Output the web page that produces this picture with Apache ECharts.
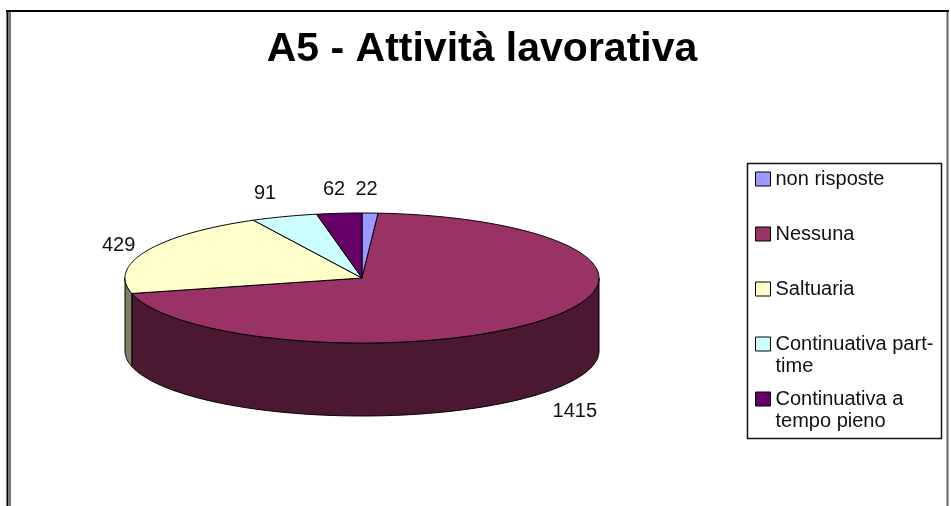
<!DOCTYPE html>
<html>
<head>
<meta charset="utf-8">
<title>A5 - Attività lavorativa</title>
<script src="https://cdn.jsdelivr.net/npm/echarts@6/dist/echarts.min.js"></script>
<style>
  html, body { margin: 0; padding: 0; background: #fff; }
  #chart { width: 951px; height: 506px; }
</style>
</head>
<body>
<div id="chart"></div>
<script>
// dati
const categories = ['non risposte', 'Nessuna', 'Saltuaria', 'Continuativa part-time', 'Continuativa a tempo pieno']
const values = [22, 1415, 429, 91, 62]
const legendLabels = ['non risposte', 'Nessuna', 'Saltuaria', 'Continuativa part-\ntime', 'Continuativa a\ntempo pieno']

// colori stile Excel (faccia superiore / lato)
const topColors = ['#9999ff', '#993366', '#ffffcc', '#ccffff', '#660066']
const sideColors = ['#4c4c7f', '#4a1830', '#7f7f66', '#667f7f', '#330033']

// geometria della torta 3D
const CX = 362, CY = 278, RX = 237, RY = 65, DEPTH = 73
const total = values.reduce((a, b) => a + b, 0)

const pt = (deg, dy) => {
  const r = deg * Math.PI / 180
  return [CX + RX * Math.sin(r), CY - RY * Math.cos(r) + dy]
}

const arc = (a0, a1, dy) => {
  const pts = []
  const n = Math.max(2, Math.ceil(Math.abs(a1 - a0)))
  for (let k = 0; k <= n; k++) pts.push(pt(a0 + (a1 - a0) * k / n, dy))
  return pts
}

function renderSlice (params, api) {
  const i = params.seriesIndex
  let start = 0
  for (let k = 0; k < i; k++) start += values[k]
  const a0 = start / total * 360
  const a1 = (start + api.value(0)) / total * 360
  const children = []

  // lato visibile (metà anteriore)
  const s = Math.max(a0, 90), e = Math.min(a1, 270)
  if (e > s) {
    children.push({
      type: 'polygon',
      shape: { points: arc(s, e, 0).concat(arc(e, s, DEPTH)) },
      style: { fill: sideColors[i], stroke: '#000', lineWidth: 1 }
    })
  }

  // faccia superiore
  children.push({
    type: 'polygon',
    shape: { points: [[CX, CY]].concat(arc(a0, a1, 0)) },
    style: { fill: topColors[i], stroke: '#000', lineWidth: 1 }
  })

  // etichetta del valore
  const mid = (a0 + a1) / 2 * Math.PI / 180
  const sn = Math.sin(mid), cs = Math.cos(mid)
  const lx = CX + (RX + 12) * sn - (Math.abs(sn) < 0.5 ? 4 : 0)
  const ly = CY - (RY + 14) * cs + (cs < 0 ? DEPTH : 0)
  children.push({
    type: 'text',
    style: {
      x: lx,
      y: ly,
      text: String(api.value(0)),
      fill: '#111',
      font: '20px "Liberation Sans"',
      align: sn < -0.3 ? 'right' : (sn > 0.3 ? 'left' : 'center'),
      verticalAlign: cs > 0.5 ? 'bottom' : (cs < -0.5 ? 'top' : 'middle')
    }
  })

  return { type: 'group', children }
}

const chart = echarts.init(document.getElementById('chart'))

// voci su due righe: una riga vuota sopra, cosi' la prima riga resta allineata al quadratino
const legendText = name => {
  const label = legendLabels[categories.indexOf(name)]
  return label.indexOf('\n') >= 0 ? '\n' + label : label
}

const option = {
  backgroundColor: '#fff',
  animation: false,
  title: {
    text: 'A5 - Attività lavorativa',
    left: 477,
    top: 24,
    textAlign: 'center',
    textStyle: {
      fontFamily: 'Liberation Sans',
      fontWeight: 'bold',
      fontSize: 41,
      color: '#000'
    }
  },
  legend: {
    orient: 'vertical',
    left: 755,
    top: 146,
    padding: 0,
    itemGap: -11,
    itemWidth: 15,
    itemHeight: 14,
    icon: 'rect',
    selectedMode: false,
    itemStyle: { borderColor: '#000', borderWidth: 1 },
    textStyle: {
      fontFamily: 'Liberation Sans',
      fontSize: 20,
      lineHeight: 66,
      color: '#111'
    },
    formatter: legendText,
    data: categories.map((name, i) => legendLabels[i].indexOf('\n') >= 0
      ? { name, textStyle: { lineHeight: 22 } }
      : { name })
  },
  graphic: [
    // cornice esterna
    { type: 'line', shape: { x1: 6, y1: 11, x2: 949, y2: 11 }, style: { stroke: '#000', lineWidth: 2 } },
    { type: 'line', shape: { x1: 7.5, y1: 10, x2: 7.5, y2: 506 }, style: { stroke: '#000', lineWidth: 2 } },
    { type: 'line', shape: { x1: 10, y1: 12, x2: 10, y2: 506 }, style: { stroke: '#777', lineWidth: 2 } },
    { type: 'line', shape: { x1: 947.5, y1: 12, x2: 947.5, y2: 506 }, style: { stroke: '#666', lineWidth: 2 } },
    // riquadro legenda
    { type: 'rect', shape: { x: 747.5, y: 163.5, width: 194, height: 275 }, style: { fill: 'none', stroke: '#111', lineWidth: 1.5 }, z: 1 }
  ],
  series: categories.map((name, i) => ({
    type: 'custom',
    name,
    coordinateSystem: 'none',
    silent: true,
    itemStyle: { color: topColors[i] },
    renderItem: renderSlice,
    data: [[values[i]]]
  }))
}

chart.setOption(option)
</script>
</body>
</html>
